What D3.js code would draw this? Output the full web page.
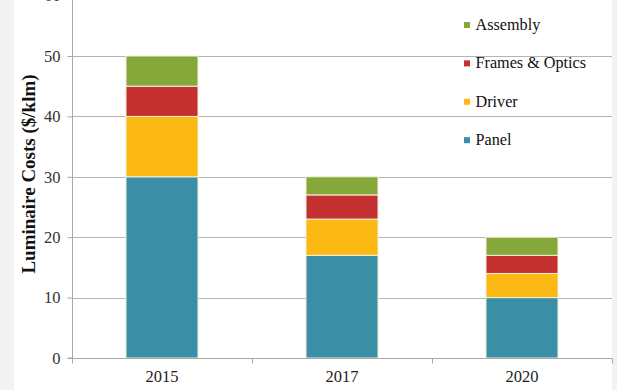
<!DOCTYPE html>
<html><head><meta charset="utf-8">
<script src="https://cdn.jsdelivr.net/npm/d3@7"></script>
<style>body{margin:0;background:#f2f2f2}svg{display:block}</style>
</head><body>
<svg id="c" width="617" height="390"></svg>
<script>
const years = ["2015", "2017", "2020"];
const seriesNames = ["Panel", "Driver", "Frames & Optics", "Assembly"];
const panel = [30, 17, 10];
const driver = [10, 6, 4];
const frames = [5, 4, 3];
const assembly = [5, 3, 3];
const yTicks = [0, 10, 20, 30, 40, 50, 60];
const colors = ["#3a8ea6", "#fdb913", "#c3302f", "#86a83a"];

const rows = years.map((y, i) => ({year: y, "Panel": panel[i], "Driver": driver[i], "Frames & Optics": frames[i], "Assembly": assembly[i]}));
const stack = d3.stack().keys(seriesNames)(rows);

const svg = d3.select("#c");
svg.append("rect").attr("x", 14).attr("y", 0).attr("width", 598).attr("height", 390).attr("fill", "#ffffff");

const x = d3.scaleBand().domain(years).range([72, 612]).paddingInner(0.6).paddingOuter(0.3);
const y = d3.scaleLinear().domain([0, 60]).range([358, -4.4]);
const serif = "Liberation Serif, Times New Roman, serif";

// gridlines
svg.append("g").selectAll("line").data(yTicks.filter(t => t > 0)).join("line")
  .attr("x1", 72).attr("x2", 612).attr("y1", d => Math.round(y(d)) + 0.5).attr("y2", d => Math.round(y(d)) + 0.5)
  .attr("stroke", "#b4b4b4").attr("stroke-width", 1);

// bars
svg.append("g").selectAll("g").data(stack).join("g").attr("fill", (d, i) => colors[i])
  .selectAll("rect").data(d => d).join("rect")
  .attr("x", d => x(d.data.year)).attr("width", x.bandwidth())
  .attr("y", d => y(d[1])).attr("height", d => y(d[0]) - y(d[1]))
  .attr("stroke", "#f3f0dc").attr("stroke-width", 1);

// y axis
const ya = svg.append("g").attr("transform", "translate(72.5,0)")
  .call(d3.axisLeft(y).tickValues(yTicks).tickSize(5).tickPadding(7));
ya.attr("font-family", serif);
ya.select(".domain").attr("stroke", "#a8a8a8").attr("d", "M-5," + y(0) + "H0V" + y(60));
ya.selectAll(".tick line").attr("stroke", "#a8a8a8");
ya.selectAll(".tick text").attr("font-family", serif).attr("font-size", 16.5).attr("fill", "#333");

// x axis
const xa = svg.append("g").attr("transform", "translate(0," + (Math.round(y(0)) + 0.5) + ")")
  .call(d3.axisBottom(x).tickSize(0).tickPadding(12));
xa.attr("font-family", serif);
xa.select(".domain").attr("stroke", "#a8a8a8").attr("d", "M72,0H612");
xa.selectAll(".tick text").attr("font-family", serif).attr("font-size", 16.5).attr("fill", "#222");
const sep = [72, 252, 432, 612];
xa.append("g").selectAll("line").data(sep).join("line")
  .attr("x1", d => d + 0.5).attr("x2", d => d + 0.5).attr("y1", 0).attr("y2", 5).attr("stroke", "#a8a8a8");

// y title
svg.append("text").attr("transform", "translate(35,174) rotate(-90)")
  .attr("text-anchor", "middle").attr("font-family", serif)
  .attr("font-weight", "bold").attr("font-size", 19).attr("fill", "#111")
  .text("Luminaire Costs ($/klm)");

// legend
const legendOrder = ["Assembly", "Frames & Optics", "Driver", "Panel"];
const lg = svg.append("g").selectAll("g").data(legendOrder).join("g")
  .attr("transform", (d, i) => "translate(464," + (30 + i * 38.4) + ")");
lg.append("rect").attr("x", 0).attr("y", -8).attr("width", 6).attr("height", 6)
  .attr("fill", d => colors[seriesNames.indexOf(d)]);
lg.append("text").attr("x", 11.5).attr("y", 0).attr("font-family", serif)
  .attr("font-size", 16.2).attr("fill", "#111").text(d => d);
</script>
</body></html>
